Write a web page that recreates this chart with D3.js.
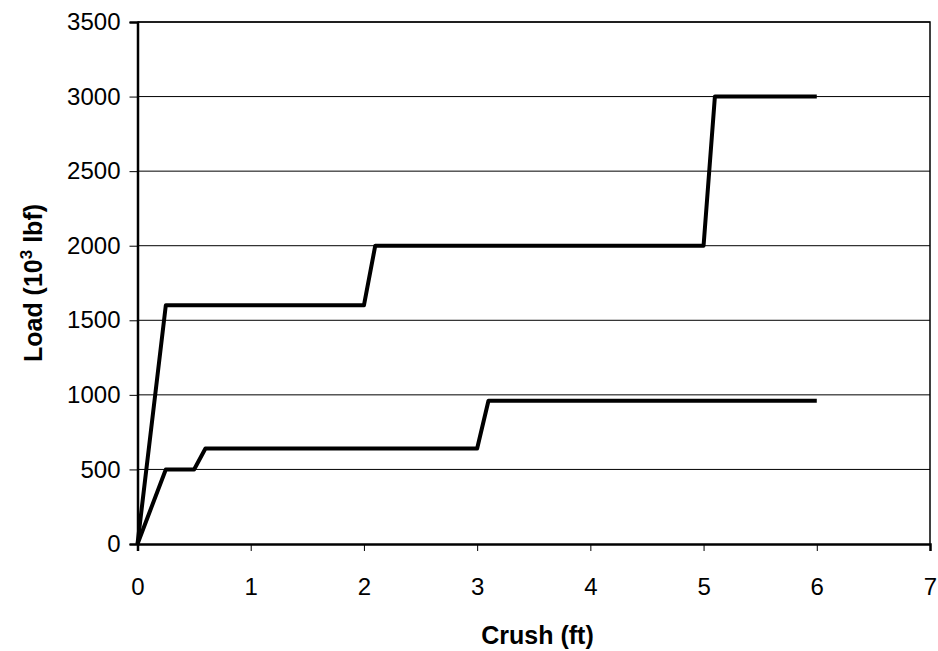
<!DOCTYPE html>
<meta charset="utf-8">
<style>
  body { margin: 0; background: #fff; }
  text { font-family: "Liberation Sans", Arial, sans-serif; fill: #000; }
</style>
<div id="chart"></div>
<script src="https://cdn.jsdelivr.net/npm/d3@7"></script>
<script>

// upper curve
var upperX = [0, 0.25, 2.0, 2.1, 5.0, 5.1, 6];
var upperY = [0, 1600, 1600, 2000, 2000, 3000, 3000];
// lower curve
var lowerX = [0, 0.25, 0.5, 0.6, 3.0, 3.1, 6];
var lowerY = [0, 500, 500, 640, 640, 960, 960];

var xTicks = [0, 1, 2, 3, 4, 5, 6, 7];
var yTicks = [0, 500, 1000, 1500, 2000, 2500, 3000, 3500];

var margin = {top: 22, right: 8, bottom: 107, left: 137.5},
    width = 938 - margin.left - margin.right,
    height = 651 - margin.top - margin.bottom;

var svg = d3.select("#chart")
  .append("svg")
    .attr("width", 938)
    .attr("height", 651)
  .append("g")
    .attr("transform", "translate(" + margin.left + "," + margin.top + ")");

var x = d3.scaleLinear().domain([0, 7]).range([0, width]);
var y = d3.scaleLinear().domain([0, 3500]).range([height, 0]);

// gridlines
svg.selectAll("line.grid")
  .data(yTicks.slice(1))
  .enter()
  .append("line")
    .attr("class", "grid")
    .attr("x1", 0)
    .attr("x2", width)
    .attr("y1", function(d) { return y(d); })
    .attr("y2", function(d) { return y(d); })
    .attr("stroke", "#000")
    .attr("stroke-width", 1);

// frame top / right
svg.append("path")
  .attr("d", "M0," + y(3500) + "H" + x(7) + "V" + y(0))
  .attr("fill", "none")
  .attr("stroke", "#000")
  .attr("stroke-width", 1.5);

// axes
var xAxis = svg.append("g")
  .attr("transform", "translate(0," + height + ")")
  .call(d3.axisBottom(x).tickValues(xTicks).tickSize(7).tickPadding(44).tickFormat(d3.format("d")));
var yAxis = svg.append("g")
  .call(d3.axisLeft(y).tickValues(yTicks).tickSize(8).tickPadding(9).tickFormat(d3.format("d")));

[xAxis, yAxis].forEach(function(a) {
  a.select(".domain").attr("stroke-width", 2.5);
  a.selectAll(".tick line").attr("stroke-width", 1);
  a.selectAll("text")
    .style("font-family", "'Liberation Sans', Arial, sans-serif")
    .style("font-size", "24px");
});
xAxis.selectAll("text").attr("dy", 0);

// lines
var line = d3.line()
  .x(function(d) { return x(d[0]); })
  .y(function(d) { return y(d[1]); });

[[upperX, upperY], [lowerX, lowerY]].forEach(function(s) {
  var pts = s[0].map(function(v, i) { return [v, s[1][i]]; });
  svg.append("path")
    .datum(pts)
    .attr("d", line)
    .attr("fill", "none")
    .attr("stroke", "#000")
    .attr("stroke-width", 4)
    .attr("stroke-linejoin", "round");
});

// axis titles
svg.append("text")
  .attr("x", 537.5 - margin.left)
  .attr("y", 644 - margin.top)
  .attr("text-anchor", "middle")
  .style("font-size", "25px")
  .style("font-weight", "bold")
  .text("Crush (ft)");

var yt = svg.append("text")
  .attr("transform", "translate(" + (42 - margin.left) + "," + (283 - margin.top) + ") rotate(-90)")
  .attr("text-anchor", "middle")
  .style("font-size", "25px")
  .style("font-weight", "bold");
yt.append("tspan").text("Load (10");
yt.append("tspan").attr("dy", -10).style("font-size", "17px").text("3");
yt.append("tspan").attr("dy", 10).text("  lbf)");

</script>
